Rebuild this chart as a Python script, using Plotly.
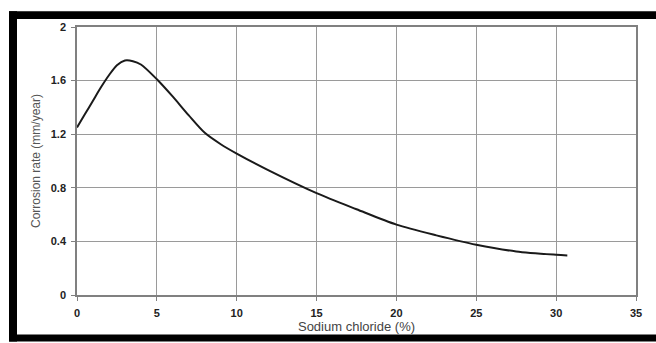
import plotly.graph_objects as go

nacl_pct = [0, 0.5, 1, 1.5, 2, 2.5, 3, 3.5, 4, 5, 6, 7, 8, 9, 10, 12, 15, 17.5, 20, 22.5, 25, 27.5, 30, 30.7]
corrosion_rate = [1.25, 1.35, 1.45, 1.55, 1.64, 1.715, 1.75, 1.745, 1.72, 1.61, 1.48, 1.34, 1.21, 1.125, 1.055, 0.93, 0.76, 0.64, 0.525, 0.445, 0.375, 0.325, 0.30, 0.295]

x_ticks = [0, 5, 10, 15, 20, 25, 30, 35]
y_ticks = [0, 0.4, 0.8, 1.2, 1.6, 2]
y_tick_text = ["0", "0.4", "0.8", "1.2", "1.6", "2"]

W, H = 656, 343
ML, MR, MT, MB = 77, 20, 27, 45
PW, PH = W - ML - MR, H - MT - MB

def px(x):
    return (x - ML) / PW

def py(y):
    return (H - MB - y) / PH

fig = go.Figure()
fig.add_trace(go.Scatter(
    x=nacl_pct, y=corrosion_rate, mode="lines",
    line=dict(color="#1a1a1a", width=2, shape="spline", smoothing=0.8),
    showlegend=False, hoverinfo="skip",
))

axis_common = dict(
    showgrid=True, gridcolor="#9a9a9a", gridwidth=1,
    showline=True, linecolor="#808080", linewidth=1.5, mirror=True,
    ticks="outside", ticklen=4, tickcolor="#808080",
    ticklabelstandoff=3,
    tickfont=dict(family="Liberation Sans, Arial", size=11, color="#222222", weight="bold"),
    zeroline=False,
)

fig.update_xaxes(
    range=[0, 35], tickvals=x_ticks,
    title=dict(text="Sodium chloride (%)", font=dict(family="Liberation Sans, Arial", size=13, color="#444444"), standoff=3),
    **axis_common,
)
fig.update_yaxes(
    range=[0, 2], tickvals=y_ticks, ticktext=y_tick_text,
    title=dict(text="Corrosion rate (mm/year)", font=dict(family="Liberation Sans, Arial", size=12, color="#555555"), standoff=8),
    **axis_common,
)

# black frame (top, left, bottom bars)
frame = dict(type="rect", xref="paper", yref="paper", fillcolor="black", line=dict(width=0), layer="above")
fig.add_shape(x0=px(9), x1=px(660), y0=py(11), y1=py(19), **frame)
fig.add_shape(x0=px(9), x1=px(17), y0=py(11), y1=py(345), **frame)
fig.add_shape(x0=px(9), x1=px(660), y0=py(338), y1=py(345), **frame)

fig.update_layout(
    width=W, height=H,
    margin=dict(l=ML, r=MR, t=MT, b=MB),
    paper_bgcolor="white", plot_bgcolor="white",
)

fig.write_html("out.html", config={"displayModeBar": False},
               post_script="document.body.style.margin='0';document.body.style.overflow='hidden';")
